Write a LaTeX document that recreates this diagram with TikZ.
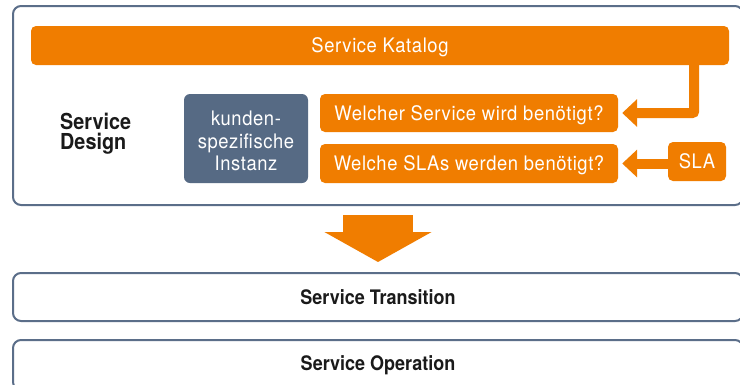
\documentclass[tikz,border=0pt]{standalone}
\usepackage{fontspec}
\setmainfont{TeX Gyre Heros}
\newfontfamily\regf{TeX Gyre Heros}[FakeStretch=0.92,LetterSpace=3]
\newfontfamily\boldf{TeX Gyre Heros Bold}[FakeStretch=0.9]
\usetikzlibrary{arrows.meta,calc}
\definecolor{ora}{HTML}{F07D00}
\definecolor{slate}{HTML}{566A84}
\definecolor{frame}{HTML}{5B6E89}
\definecolor{ink}{HTML}{1A1A1A}
\begin{document}
\begin{tikzpicture}[x=1pt,y=-1pt,
  phase/.style={draw=frame,line width=2pt,rounded corners=8pt,fill=white,
    minimum width=730pt,inner sep=0pt,text=ink,font=\boldf\fontsize{20}{22}\selectfont},
  obox/.style={fill=ora,rounded corners=5pt,text=white,inner sep=0pt,text depth=0pt,
    font=\regf\fontsize{20}{22}\selectfont},
  sbox/.style={fill=slate,rounded corners=6pt,text=white,inner sep=0pt,align=center,
    font=\regf\fontsize{20}{22.5}\selectfont},
  sarr/.style={draw=ora,line width=10pt,rounded corners=2pt,
    -{Triangle[length=15pt,width=27pt]}},
  bigarr/.style={draw=ora,line width=70pt,-{Triangle[length=30pt,width=106pt]}}]
\useasboundingbox (0,0) rectangle (740,384);
\clip (0,0) rectangle (740,384);
\fill[white] (0,0) rectangle (740,384);
% phase boxes
\node[phase,minimum height=199pt] (design) at (378,105.5) {};
\node[phase,minimum height=48pt] (trans) at (378,297) {Service Transition};
\node[phase,minimum height=50pt] (oper) at (378,365) {Service Operation};
% content of service design
\node[obox,minimum width=698pt,minimum height=39pt] (kat) at (380,45.5) {Service Katalog};
\node[anchor=base west,align=left,text=ink,inner sep=0pt,font=\boldf\fontsize{22}{20}\selectfont] (lbl) at (60,149.3) {Service\\Design};
\node[sbox,minimum width=124pt,minimum height=89pt,text height=65pt] (inst) at (246,138.5) {kunden-\\spezifische\\Instanz};
\node[obox,minimum width=298pt,minimum height=38pt] (q1) at (469,113) {Welcher Service wird benötigt?};
\node[obox,minimum width=298pt,minimum height=39pt] (q2) at (469,163.5) {Welche SLAs werden benötigt?};
\node[obox,minimum width=58pt,minimum height=39pt] (sla) at (697,161.5) {SLA};
% connectors
\draw[sarr] ($(kat.south east)+(-35,-3)$) |- ($(q1.east)+(4,0)$);
\draw[sarr] ($(q2.east -| sla.west)+(1,0)$) -- ($(q2.east)+(4,0)$);
\coordinate (b1) at (378,215);
\coordinate (b2) at (378,262);
\draw[bigarr] (b1) -- (b2);
\end{tikzpicture}
\end{document}
